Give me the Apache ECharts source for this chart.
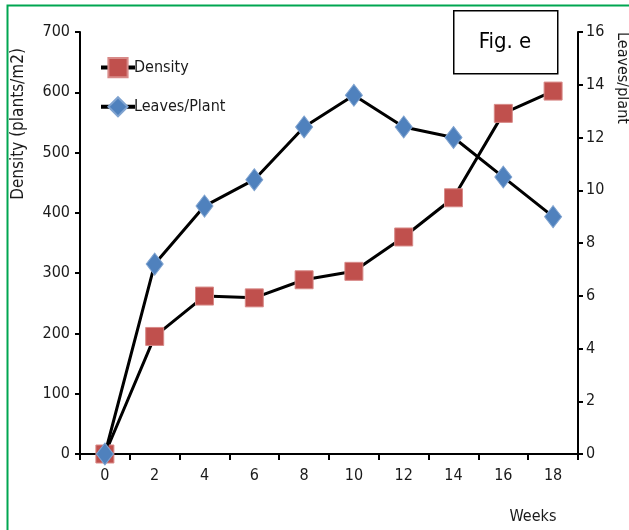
<!DOCTYPE html>
<html>
<head>
<meta charset="utf-8">
<script src="https://cdn.jsdelivr.net/npm/echarts@6/dist/echarts.min.js"></script>
<style>
  html, body { margin: 0; padding: 0; background: #fff; }
  #chart { width: 629px; height: 530px; }
</style>
</head>
<body>
<div id="chart"></div>
<script>
// weeks after sowing
const weeks = ['0', '2', '4', '6', '8', '10', '12', '14', '16', '18']
// plants per m2
const density = [0, 195, 262, 259, 289, 303, 360, 425, 565, 602]
// leaves per plant
const leaves = [0, 7.2, 9.4, 10.4, 12.4, 13.6, 12.4, 12.0, 10.5, 9.0]

const font = "'DejaVu Sans Condensed', 'Liberation Sans Narrow', sans-serif"
const myChart = echarts.init(document.getElementById('chart'))

const axisStyle = {
  axisLine: { show: true, lineStyle: { color: '#000', width: 2 } },
  axisTick: { show: true, length: 5, lineStyle: { color: '#000', width: 2 } },
  splitLine: { show: false },
}

myChart.setOption({
  animation: false,
  grid: { left: 80, right: 51, top: 32, bottom: 76 },
  legend: {
    left: 94,
    top: 52,
    orient: 'vertical',
    itemGap: 18,
    itemWidth: 34,
    itemHeight: 24,
    lineStyle: { width: 4, color: '#000' },
    textStyle: { fontSize: 16, fontFamily: font, color: '#1a1a1a', padding: [0, 0, 0, -6] },
    data: ['Density', 'Leaves/Plant'],
  },
  xAxis: {
    type: 'category',
    data: weeks,
    boundaryGap: true,
    ...axisStyle,
    axisTick: { show: true, length: 6, lineStyle: { color: '#000', width: 2 } },
    axisLabel: { color: '#1a1a1a', fontSize: 16, fontFamily: font, margin: 14 },
  },
  yAxis: [
    {
      type: 'value',
      min: 0,
      max: 700,
      interval: 100,
      position: 'left',
      ...axisStyle,
      axisLabel: { color: '#1a1a1a', fontSize: 16, fontFamily: font, margin: 10 },
    },
    {
      type: 'value',
      min: 0,
      max: 16,
      interval: 2,
      position: 'right',
      ...axisStyle,
      axisLabel: { color: '#1a1a1a', fontSize: 16, fontFamily: font, margin: 8 },
    },
  ],
  graphic: [
    {
      type: 'rect',
      left: 5,
      top: 3,
      shape: { width: 640, height: 540 },
      style: { fill: 'none', stroke: '#00a651', lineWidth: 2 },
      silent: true,
    },
    {
      type: 'rect',
      left: 453,
      top: 10,
      shape: { width: 104, height: 63 },
      style: { fill: '#fff', stroke: '#000', lineWidth: 1.5 },
    },
    {
      type: 'text',
      x: 505,
      y: 42,
      style: {
        text: 'Fig. e',
        fontSize: 22,
        fontFamily: font,
        fill: '#000',
        align: 'center',
        verticalAlign: 'middle',
      },
    },
    {
      type: 'text',
      x: 19,
      y: 124,
      rotation: Math.PI / 2,
      style: {
        text: 'Density (plants/m2)',
        fontSize: 17,
        fontFamily: font,
        fill: '#1a1a1a',
        align: 'center',
        verticalAlign: 'middle',
      },
    },
    {
      type: 'text',
      x: 622,
      y: 78,
      rotation: -Math.PI / 2,
      style: {
        text: 'Leaves/plant',
        fontSize: 16,
        fontFamily: font,
        fill: '#1a1a1a',
        align: 'center',
        verticalAlign: 'middle',
      },
    },
    {
      type: 'text',
      x: 533,
      y: 517,
      style: {
        text: 'Weeks',
        fontSize: 16,
        fontFamily: font,
        fill: '#1a1a1a',
        align: 'center',
        verticalAlign: 'middle',
      },
    },
  ],
  series: [
    {
      name: 'Density',
      type: 'line',
      yAxisIndex: 0,
      data: density,
      symbol: 'rect',
      symbolSize: 18,
      lineStyle: { color: '#000', width: 3 },
      itemStyle: { color: '#c0504d', borderColor: '#d88a88', borderWidth: 1 },
      z: 3,
    },
    {
      name: 'Leaves/Plant',
      type: 'line',
      yAxisIndex: 1,
      data: leaves,
      symbol: 'diamond',
      symbolSize: [17, 22],
      lineStyle: { color: '#000', width: 3 },
      itemStyle: { color: '#4f81bd', borderColor: '#7fa3d0', borderWidth: 1 },
      z: 4,
    },
  ],
})
</script>
</body>
</html>
